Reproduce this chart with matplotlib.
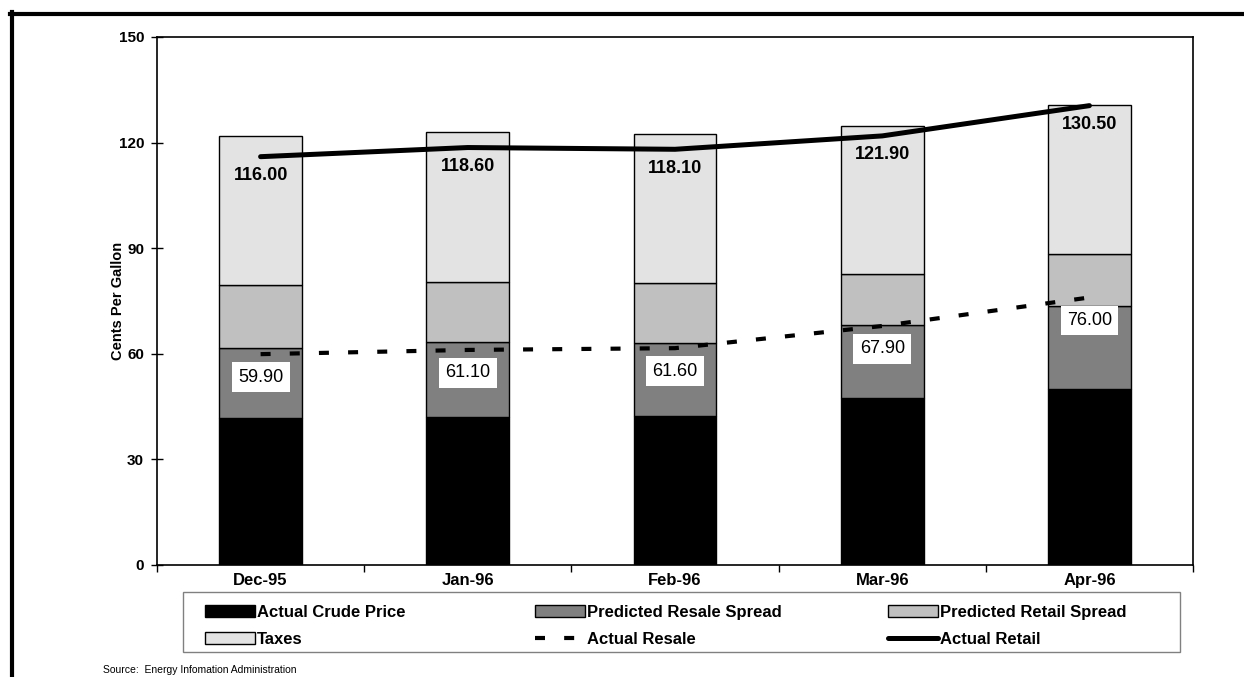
import matplotlib
matplotlib.use("Agg")
import matplotlib.pyplot as plt
from matplotlib.lines import Line2D
from matplotlib.patches import Patch, Rectangle
import numpy as np

plt.rcParams['font.family'] = ['Liberation Sans', 'DejaVu Sans']

# Monthly price components, cents per gallon
months = ['Dec-95', 'Jan-96', 'Feb-96', 'Mar-96', 'Apr-96']
crude_price = [41.8, 42.1, 42.4, 47.4, 49.9]
resale_spread = [19.8, 21.2, 20.6, 20.8, 23.7]
retail_spread = [17.9, 17.2, 17.0, 14.4, 14.7]
taxes = [42.4, 42.6, 42.4, 42.2, 42.4]
actual_resale = [59.9, 61.1, 61.6, 67.9, 76.0]
actual_retail = [116.0, 118.6, 118.1, 121.9, 130.5]
y_ticks = [0, 30, 60, 90, 120, 150]

W, H = 1244, 677
fig = plt.figure(figsize=(W / 100, H / 100), dpi=100)
ax = fig.add_axes([157 / W, 1 - 565 / H, 1036 / W, 528 / H])

x = np.arange(len(months))
width = 0.40

layers = [
    (crude_price, '#000000', 'Actual Crude Price'),
    (resale_spread, '#808080', 'Predicted Resale Spread'),
    (retail_spread, '#c0c0c0', 'Predicted Retail Spread'),
    (taxes, '#e3e3e3', 'Taxes'),
]
bottom = np.zeros(len(months))
bar_handles = {}
for vals, color, name in layers:
    ax.bar(x, vals, width, bottom=bottom, color=color, edgecolor='black',
           linewidth=1.0, zorder=2)
    bar_handles[name] = Patch(facecolor=color, edgecolor='black', linewidth=1.0)
    bottom = bottom + np.array(vals)

resale_line, = ax.plot(x, actual_resale, color='black', linewidth=3.0,
                       linestyle=(0, (2.4, 4.6)), dash_capstyle='butt',
                       zorder=4)
retail_line, = ax.plot(x, actual_retail, color='black', linewidth=3.6,
                       solid_capstyle='round', solid_joinstyle='round',
                       zorder=4)

for xi, v in zip(x, actual_retail):
    ax.annotate(f"{v:.2f}", (xi, v), xytext=(0, -19), textcoords='offset pixels',
                ha='center', va='center', fontsize=13, fontweight='bold',
                zorder=5)

for xi, v in zip(x, actual_resale):
    ax.annotate(f"{v:.2f}", (xi, v), xytext=(0, -23), textcoords='offset pixels',
                ha='center', va='center', fontsize=13,
                bbox=dict(boxstyle='square,pad=0.35', facecolor='white',
                          edgecolor='none'),
                zorder=6)

ax.set_xlim(-0.5, len(months) - 0.5)
ax.set_ylim(0, 150)
ax.set_yticks(y_ticks)
ax.set_yticklabels([str(t) for t in y_ticks], fontsize=11, fontweight='bold')
ax.tick_params(axis='y', direction='inout', length=8.6, width=1.0, pad=5.0)

ax.set_xticks(x)
ax.set_xticklabels(months, fontsize=12, fontweight='bold')
ax.tick_params(axis='x', which='major', length=0, pad=5.5)
ax.set_xticks(np.arange(-0.5, len(months), 1.0), minor=True)
ax.tick_params(axis='x', which='minor', direction='out', length=5, width=1.0)

for sp in ax.spines.values():
    sp.set_linewidth(1.2)

ax.set_ylabel('Cents Per Gallon', fontsize=10.5, fontweight='bold')
ax.yaxis.set_label_coords(-0.031, 0.5)

# Legend: framed box holding three columns of two entries
fig.add_artist(Rectangle((183 / W, 1 - 652 / H), 997 / W, 60 / H,
                         transform=fig.transFigure, facecolor='white',
                         edgecolor='#808080', linewidth=1.0, zorder=1))
columns = [
    ([bar_handles['Actual Crude Price'], bar_handles['Taxes']],
     ['Actual Crude Price', 'Taxes'], 205),
    ([bar_handles['Predicted Resale Spread'], resale_line],
     ['Predicted Resale Spread', 'Actual Resale'], 535),
    ([bar_handles['Predicted Retail Spread'], retail_line],
     ['Predicted Retail Spread', 'Actual Retail'], 888),
]
for hs, ls, x0 in columns:
    leg = fig.legend(hs, ls, loc='center left',
                     bbox_to_anchor=(x0 / W, 1 - 626 / H),
                     frameon=False, prop=dict(size=12, weight='bold'),
                     handlelength=3.0, handleheight=0.72, handletextpad=0.12,
                     labelspacing=0.75, borderpad=0.0, borderaxespad=0.0)
    leg.set_zorder(2)

# Page frame around the figure
fig.add_artist(Line2D([11.5 / W, 11.5 / W], [0, 1 - 12 / H],
                      transform=fig.transFigure, color='black', linewidth=3.0))
fig.add_artist(Line2D([10 / W, 1], [1 - 13.5 / H, 1 - 13.5 / H],
                      transform=fig.transFigure, color='black', linewidth=3.0))

fig.text(103 / W, 1 - 675 / H, 'Source:  Energy Infomation Administration',
         fontsize=7.5, va='bottom', ha='left')

fig.savefig('out.png', dpi=100)
